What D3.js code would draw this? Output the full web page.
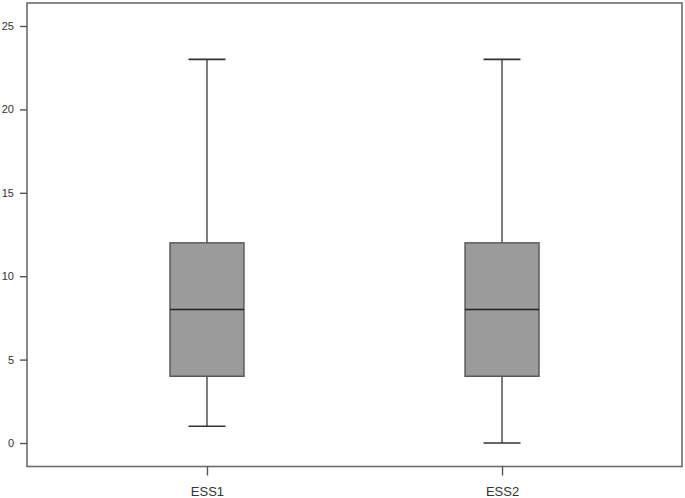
<!DOCTYPE html>
<html><head><meta charset="utf-8">
<script src="https://cdn.jsdelivr.net/npm/d3@7"></script>
<style>body{margin:0;background:#fff}svg{display:block}</style>
</head><body>
<svg id="c" width="685" height="498"></svg>
<script>
const categories = ["ESS1", "ESS2"];
const whiskerLow = [1, 0];
const q1 = [4, 4];
const median = [8, 8];
const q3 = [12, 12];
const whiskerHigh = [23, 23];
const yTicks = [0, 5, 10, 15, 20, 25];

const svg = d3.select("#c");
const L = 27, R = 682, T = 3, B = 466.5;
const y = d3.scaleLinear().domain([0, 25]).range([443, 26]);
const x = d3.scalePoint().domain(categories).range([L, R]).padding(0.61);

const font = "Arial, 'Liberation Sans', sans-serif";
// frame
svg.append("rect").attr("x", L).attr("y", T).attr("width", R - L).attr("height", B - T)
  .attr("fill", "none").attr("stroke", "#6b6b6b").attr("stroke-width", 1.6);

const yAxis = svg.append("g").attr("transform", `translate(${L},0)`)
  .call(d3.axisLeft(y).tickValues(yTicks).tickSize(7).tickPadding(6));
yAxis.select(".domain").remove();
yAxis.selectAll("line").attr("stroke", "#555").attr("stroke-width", 1.4);
yAxis.selectAll("text").attr("fill", "#333").style("font-family", font).style("font-size", "11px");

const xAxis = svg.append("g").attr("transform", `translate(0,${B})`)
  .call(d3.axisBottom(x).tickSize(9).tickPadding(5));
xAxis.select(".domain").remove();
xAxis.selectAll("line").attr("stroke", "#555").attr("stroke-width", 1.4);
xAxis.selectAll("text").attr("fill", "#333").attr("y", 29.5).attr("dy", 0)
  .style("font-family", font).style("font-size", "13px");

const boxW = 74, capW = 37;
const g = svg.append("g");
categories.forEach((c, i) => {
  const cx = x(c);
  g.append("line").attr("x1", cx).attr("x2", cx).attr("y1", y(whiskerHigh[i])).attr("y2", y(q3[i]))
    .attr("stroke", "#444").attr("stroke-width", 1.4);
  g.append("line").attr("x1", cx).attr("x2", cx).attr("y1", y(q1[i])).attr("y2", y(whiskerLow[i]))
    .attr("stroke", "#444").attr("stroke-width", 1.4);
  [whiskerHigh[i], whiskerLow[i]].forEach(v => {
    g.append("line").attr("x1", cx - capW / 2).attr("x2", cx + capW / 2).attr("y1", y(v)).attr("y2", y(v))
      .attr("stroke", "#333").attr("stroke-width", 1.6);
  });
  g.append("rect").attr("x", cx - boxW / 2).attr("width", boxW)
    .attr("y", y(q3[i])).attr("height", y(q1[i]) - y(q3[i]))
    .attr("fill", "#9b9b9b").attr("stroke", "#555").attr("stroke-width", 1.4);
  g.append("line").attr("x1", cx - boxW / 2).attr("x2", cx + boxW / 2).attr("y1", y(median[i])).attr("y2", y(median[i]))
    .attr("stroke", "#222").attr("stroke-width", 1.6);
});
</script>
</body></html>
